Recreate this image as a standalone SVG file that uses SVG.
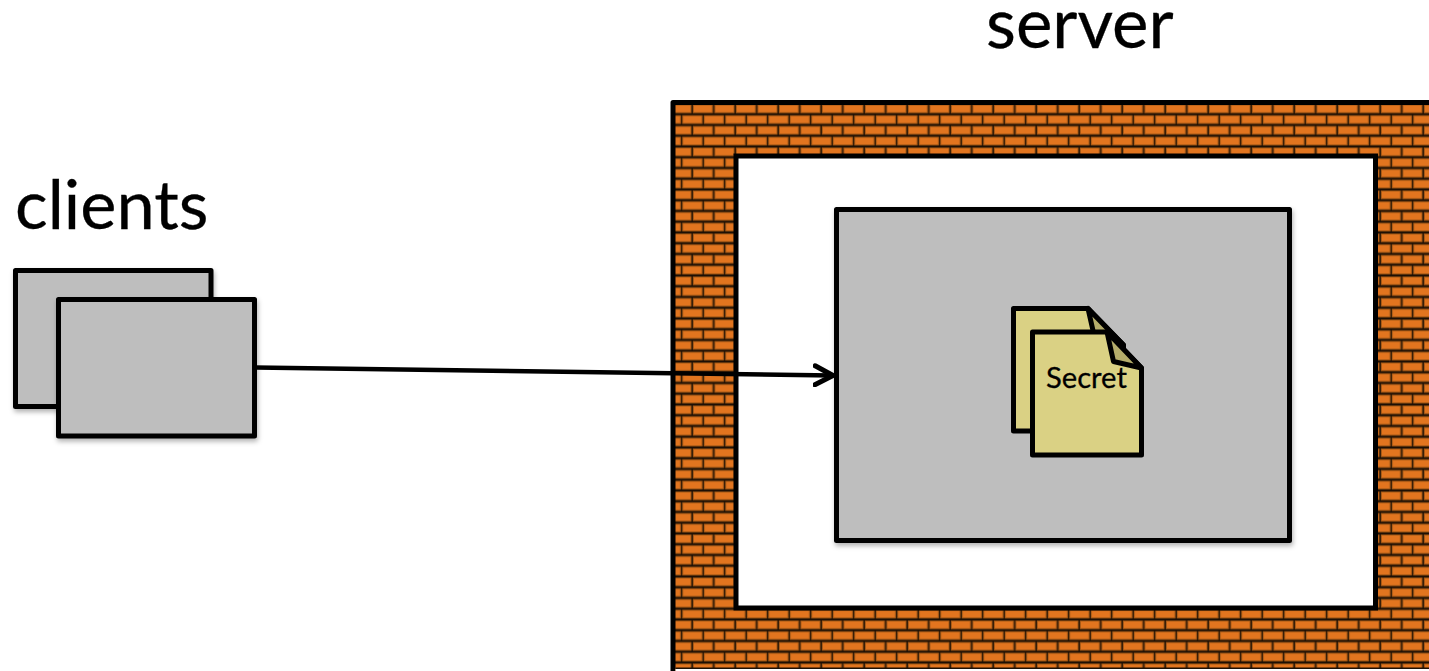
<svg xmlns="http://www.w3.org/2000/svg" width="1429" height="671" viewBox="0 0 1429 671">
<style>
.lbl{font-family:"Lato","Open Sans",sans-serif;fill:#000;stroke:#000;stroke-width:0.3}
.box{fill:#bebebe;stroke:#000;stroke-width:5;stroke-linejoin:round;filter:url(#sh)}
.doc{fill:#dad184;stroke:#000;stroke-width:5;stroke-linejoin:round}
.fold{fill:#b5ad6b;stroke:#000;stroke-width:5;stroke-linejoin:round}
.brick{fill:#e2751f;stroke:#a85a15;stroke-width:1}
</style>
<defs>
<pattern id="bricks" patternUnits="userSpaceOnUse" x="692" y="104" width="21.5" height="21.5">
<rect width="21.5" height="21.5" fill="#1c0f04"/>
<rect class="brick" x="1.3" y="1" width="19.2" height="7.7"/>
<rect class="brick" x="-9.2" y="11.75" width="19.2" height="7.7"/>
<rect class="brick" x="12.3" y="11.75" width="19.2" height="7.7"/>
</pattern>
<filter id="sh" x="-10%" y="-10%" width="120%" height="120%">
<feDropShadow dx="1" dy="3" stdDeviation="2.5" flood-color="#000" flood-opacity="0.3"/>
</filter>
<marker id="open" viewBox="0 0 24 24" refX="20" refY="12" markerWidth="24" markerHeight="24" markerUnits="userSpaceOnUse" orient="auto">
<path d="M2 2.500L20 12L2 21.500" fill="none" stroke="#000" stroke-width="5" stroke-linecap="round" stroke-linejoin="round"/>
</marker>
</defs>

<text class="lbl" id="label-server" x="986" y="48" font-size="69">server</text>
<text class="lbl" id="label-clients" x="15" y="229" font-size="68.500">clients</text>

<g id="firewall">
<rect x="673" y="102.500" width="800" height="620" fill="url(#bricks)" stroke="#000" stroke-width="5" stroke-linejoin="round"/>
<rect x="675.500" y="667.500" width="760" height="1.500" fill="#1c0f04"/>
<rect x="675.500" y="669" width="760" height="2" fill="#fff"/>
<rect x="736" y="156" width="639.500" height="452" fill="#fff" stroke="#000" stroke-width="5"/>
</g>

<g id="client-back"><rect class="box" x="15.500" y="270.500" width="195.500" height="136"/></g>
<g id="client-front"><rect class="box" x="58.500" y="299.500" width="196" height="136.500"/></g>

<g id="server-box"><rect class="box" x="836.500" y="209.500" width="453" height="331"/></g>

<g id="doc-back">
<path class="doc" d="M1013.500 308.500H1088L1123.500 345V431H1013.500Z"/>
<path class="fold" d="M1088 308.500L1094 335L1123.500 345Z"/>
</g>
<g id="doc-front">
<path class="doc" d="M1032.500 332H1107L1141.500 368V455H1032.500Z"/>
<path class="fold" d="M1107 332L1113.500 361.500L1141.500 368Z"/>
<text class="lbl" x="1046" y="388" font-size="29.200">Secret</text>
</g>

<g id="connectors">
<path d="M255 367.500L833 375.500" fill="none" stroke="#000" stroke-width="4.500" marker-end="url(#open)"/>
</g>
</svg>
